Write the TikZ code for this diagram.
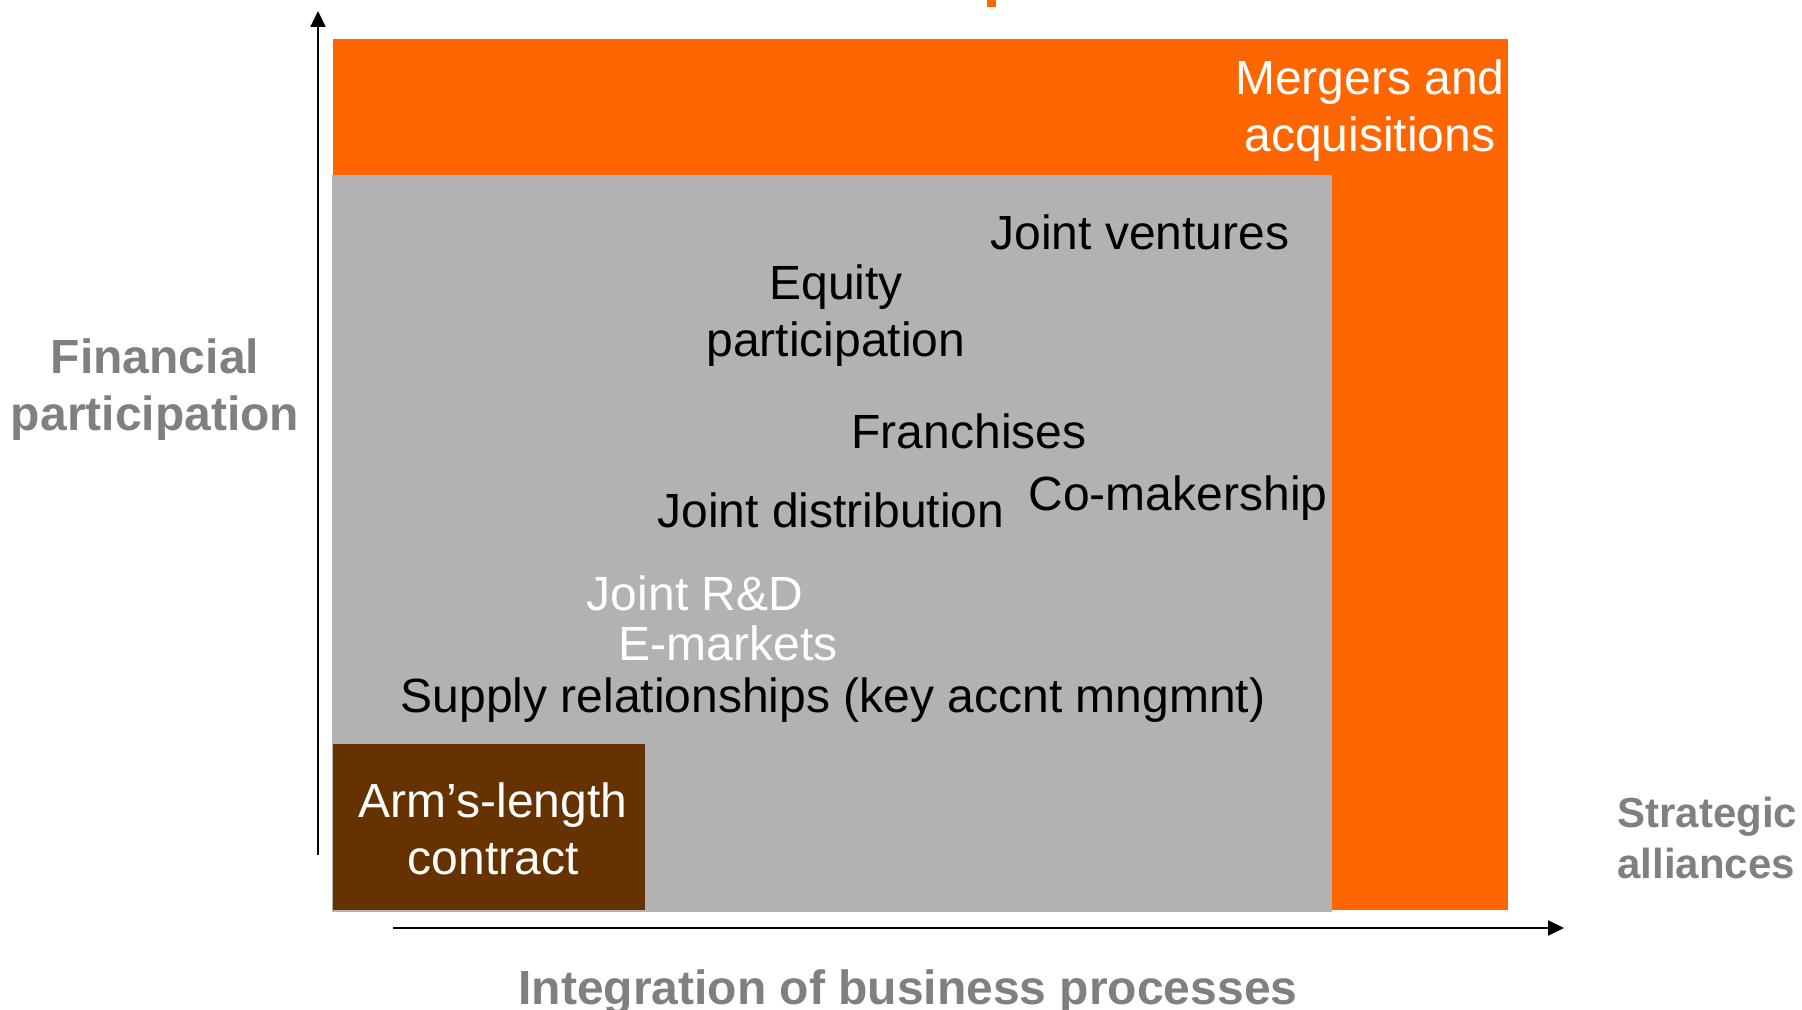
\documentclass[tikz,border=0pt]{standalone}
\usepackage{fontspec}
\setmainfont{Liberation Sans}
\usepackage{tikz}
\usetikzlibrary{arrows.meta}
\definecolor{mergeorange}{HTML}{FF6600}
\definecolor{allygray}{HTML}{B2B2B2}
\definecolor{armbrown}{HTML}{663300}
\definecolor{labelgray}{HTML}{808080}
\tikzset{%
	form/.style      = {inner sep=0pt, anchor=base, align=center, font=\fontsize{24}{28.5}\selectfont}, % alliance form
	whiteform/.style = {form, text=white}, % form on dark ground
	axislabel/.style = {form, text=labelgray, font=\bfseries\fontsize{24}{28.5}\selectfont}, % axis title
	axis/.style      = {-{Triangle[length=8pt,width=7.5pt]}, line width=1pt}, % axis
}
\begin{document}
\begin{tikzpicture}[x=0.5pt, y=-0.5pt]
	\useasboundingbox (0,0) rectangle (1802,1010);
	% blocks
	\fill[mergeorange] (333,39) rectangle (1508,910);
	\fill[allygray] (332,175) rectangle (1332,912);
	\fill[armbrown] (333,744) rectangle (645,910);
	\fill[mergeorange] (987,0) rectangle (996,7);
	% axes
	\coordinate (ylow) at (318,855);
	\coordinate (ytop) at (318,11);
	\coordinate (xlow) at (393,928);
	\coordinate (xtop) at (1564,928);
	\draw[axis] (ylow) -- (ytop);
	\draw[axis] (xlow) -- (xtop);
	% forms (multi-line: base = last line)
	\node[whiteform] (ma) at (1370,152) {Mergers and\\acquisitions};
	\node[form] (jv) at (1140,250) {Joint ventures};
	\node[form] (ep) at (836,357) {Equity\\participation};
	\node[form] (fr) at (969,448) {Franchises};
	\node[form] (cm) at (1178,510) {Co-makership};
	\node[form] (jd) at (831,527) {Joint distribution};
	\node[whiteform] (rd) at (695,610) {Joint R\&D};
	\node[whiteform] (em) at (728,660) {E-markets};
	\node[form] (sr) at (833,712) {Supply relationships (key accnt mngmnt)};
	\node[whiteform] (al) at (493,874) {Arm’s-length\\contract};
	% axis titles
	\node[axislabel] (fp) at (155,430) {Financial\\participation};
	\node[axislabel, anchor=base west, align=left, font=\bfseries\fontsize{21}{25.5}\selectfont] (sa) at (1617,878) {Strategic\\alliances};
	\node[axislabel] (ib) at (908,1004) {Integration of business processes};
\end{tikzpicture}
\end{document}
